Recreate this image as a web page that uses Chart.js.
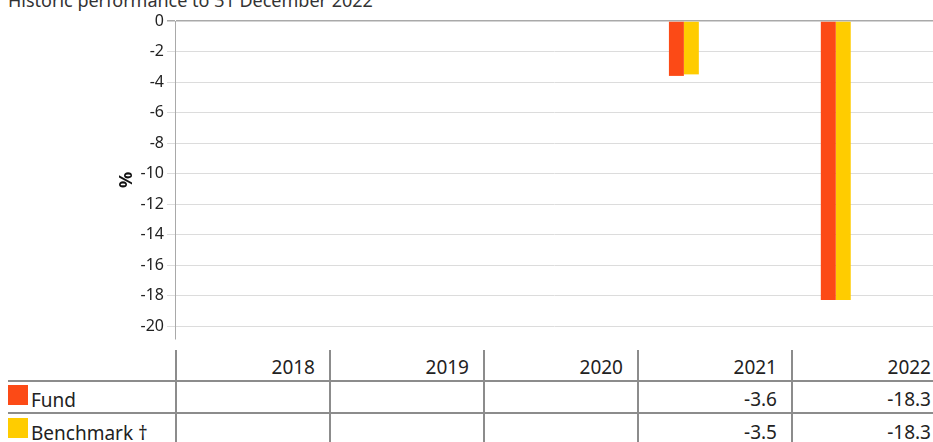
<!DOCTYPE html>
<html>
<head>
<meta charset="utf-8">
<script src="https://cdn.jsdelivr.net/npm/chart.js@4/dist/chart.umd.min.js"></script>
<style>
  html, body { margin: 0; padding: 0; background: #fff; overflow: hidden; }
  body { width: 933px; height: 442px; position: relative; font-family: "Noto Sans", sans-serif; color: #222; }
  #title { position: absolute; left: 8px; top: -9px; font-size: 18px; line-height: 18px; white-space: nowrap; color: #333; }
  #chart-box { position: absolute; left: 0; top: 0; width: 933px; height: 342px; }
  #perf-table { position: absolute; left: 8px; top: 350px; display: grid;
    grid-template-columns: 167px repeat(5, 154px); grid-auto-rows: 32px; font-size: 19px; }
  #perf-table .cell { box-sizing: border-box; text-align: right; padding: 3px 14px 0 0;
    display: flex; align-items: center; justify-content: flex-end; }
  #perf-table .val { border-left: 2px solid #8c8c8c; }
  #perf-table .row-line { border-bottom: 2px solid #8c8c8c; }
  #perf-table .label { justify-content: flex-start; padding: 0; }
  .swatch { width: 20px; height: 20px; margin: 0 3px 4px 0; flex: none; }
  .label span.name { padding-top: 5px; }
</style>
</head>
<body>
<div id="title">Historic performance to 31 December 2022</div>
<div id="chart-box"><canvas id="perf-chart"></canvas></div>
<div id="perf-table"></div>

<script>
// Calendar year returns (%)
const years = ["2018", "2019", "2020", "2021", "2022"];
const fundReturns = [null, null, null, -3.6, -18.3];
const benchmarkReturns = [null, null, null, -3.5, -18.3];
const seriesNames = ["Fund", "Benchmark †"];
const yTicks = [0, -2, -4, -6, -8, -10, -12, -14, -16, -18, -20];

const fundColor = "#fc4a16";
const benchColor = "#ffcc00";

function toPoints(values) {
    return years.map((y, i) => ({ x: Number(y), y: values[i] }));
}

const ctx = document.getElementById("perf-chart").getContext("2d");

new Chart(ctx, {
    type: "bar",
    data: {
        datasets: [
            { label: seriesNames[0], data: toPoints(fundReturns), backgroundColor: fundColor },
            { label: seriesNames[1], data: toPoints(benchmarkReturns), backgroundColor: benchColor }
        ]
    },
    options: {
        responsive: true,
        maintainAspectRatio: false,
        animation: false,
        layout: { padding: { top: 21, bottom: 3, left: 0, right: 0 } },
        categoryPercentage: 0.197,
        barPercentage: 1,
        plugins: {
            legend: { display: false },
            tooltip: { enabled: false }
        },
        scales: {
            x: {
                type: "linear",
                display: false,
                offset: false,
                min: 2017.65,
                max: 2022.64,
                // one tick per year so the bar width follows the year spacing
                afterBuildTicks: scale => {
                    scale.ticks = years.map(y => ({ value: Number(y) }));
                }
            },
            y: {
                min: -20.85,
                max: 0,
                afterBuildTicks: scale => {
                    scale.ticks = yTicks.map(v => ({ value: v }));
                },
                afterFit: scale => {
                    scale.width = 175;
                    scale.paddingTop = 0;
                    scale.paddingBottom = 0;
                },
                border: { display: true, color: "#a9a9a9", width: 1 },
                grid: {
                    color: c => (c.tick && c.tick.value === 0 ? "#a9a9a9" : "#dcdcdc"),
                    lineWidth: c => (c.tick && c.tick.value === 0 ? 1.5 : 1),
                    tickLength: 8
                },
                ticks: {
                    color: "#222",
                    padding: 3,
                    font: { family: "Noto Sans", size: 16 }
                },
                title: {
                    display: true,
                    text: "%",
                    color: "#111",
                    font: { family: "Noto Sans", size: 18, weight: "bold" },
                    padding: { top: 116, bottom: 0 }
                }
            }
        }
    }
});

// Values table under the chart
const table = document.getElementById("perf-table");

function addCell(html, classes) {
    const div = document.createElement("div");
    div.className = "cell " + classes;
    div.innerHTML = html;
    table.appendChild(div);
}

addCell("", "row-line");
years.forEach(y => addCell(y, "val row-line"));

const rows = [
    { name: seriesNames[0], color: fundColor, values: fundReturns, line: true },
    { name: seriesNames[1], color: benchColor, values: benchmarkReturns, line: false }
];

rows.forEach(r => {
    const lineCls = r.line ? " row-line" : "";
    addCell(`<span class="swatch" style="background:${r.color}"></span><span class="name">${r.name}</span>`, "label" + lineCls);
    r.values.forEach(v => addCell(v === null ? "" : v.toFixed(1), "val" + lineCls));
});
</script>
</body>
</html>
